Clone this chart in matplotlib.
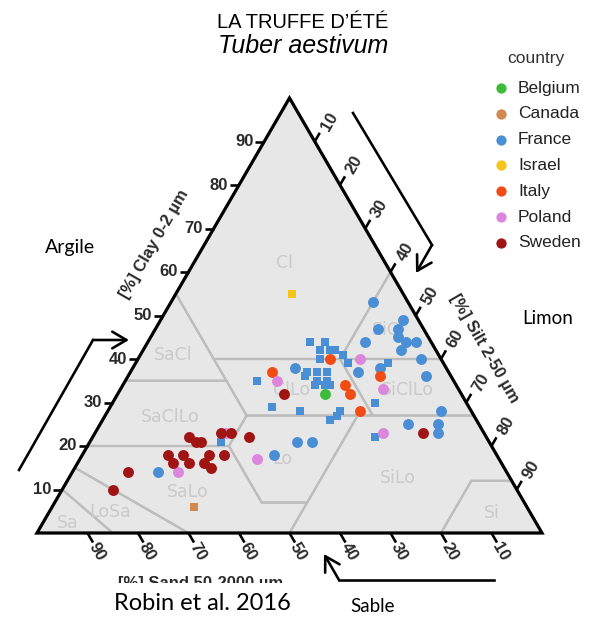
import numpy as np
import matplotlib
matplotlib.use("Agg")
import matplotlib.pyplot as plt
from matplotlib import font_manager
from matplotlib.patches import Polygon
from matplotlib.transforms import Bbox

W, H, DPI = 604, 621, 100
PT = 72.0 / DPI  # points per pixel

# ---------------- data: texture of soil samples (clay %, silt %, sand %) ----------------
belgium_clay = [32]
belgium_silt = [41]
belgium_sand = [27]

canada_clay = [6]
canada_silt = [28]
canada_sand = [66]

israel_clay = [55]
israel_silt = [23]
israel_sand = [22]

italy_clay = [37, 40, 34, 32, 28, 36]
italy_silt = [28, 38, 44, 46, 50, 50]
italy_sand = [35, 22, 22, 22, 22, 14]

poland_clay = [23, 14, 17, 35, 40, 33, 23]
poland_silt = [26, 21, 35, 30, 44, 52, 57]
poland_sand = [51, 65, 48, 35, 16, 15, 20]

sweden_clay = [22, 21, 21, 23, 23, 22, 18, 18, 16, 18, 18, 16, 16, 15, 14, 10, 32, 23]
sweden_silt = [19, 21, 22, 25, 27, 31, 17, 20, 22, 25, 28, 19, 25, 27, 11, 10, 33, 65]
sweden_sand = [59, 58, 57, 52, 50, 47, 65, 62, 62, 57, 54, 65, 59, 58, 75, 80, 35, 12]

france_round_clay = [14, 18, 21, 21, 38, 37, 53, 49, 47, 47, 45, 44, 44, 42, 44, 40, 36, 38, 25, 28, 25, 23]
france_round_silt = [17, 38, 41, 44, 32, 45, 40, 48, 44, 48, 49, 51, 53, 51, 43, 56, 59, 49, 61, 66, 67, 68]
france_round_sand = [69, 44, 38, 35, 30, 18, 7, 3, 9, 5, 6, 5, 3, 7, 13, 4, 5, 13, 14, 6, 8, 9]

france_square_clay = [21, 29, 35, 28, 44, 44, 30, 39, 42, 42, 42, 41, 39, 40, 37, 37, 37, 36,
                      35, 35, 34, 34, 34, 28, 27, 26, 22]
france_square_silt = [26, 32, 26, 38, 32, 35, 52, 50, 35, 37, 38, 40, 42, 36, 35, 37, 39, 35,
                      38, 40, 38, 40, 41, 46, 46, 45, 56]
france_square_sand = [53, 39, 39, 34, 24, 21, 18, 11, 23, 21, 20, 19, 19, 24, 28, 26, 24, 29,
                      27, 25, 28, 26, 25, 26, 27, 29, 22]

countries = ["Belgium", "Canada", "France", "Israel", "Italy", "Poland", "Sweden"]
country_colors = ["#3dbb3d", "#d08a4e", "#4a8fd6", "#f5c419", "#f24b14", "#dc86dc", "#a11414"]

tick_values = [10, 20, 30, 40, 50, 60, 70, 80, 90]

# USDA texture classes, vertices as (clay, silt, sand)
usda_classes = {
    "Cl": [(100, 0, 0), (55, 0, 45), (40, 15, 45), (40, 40, 20), (60, 40, 0)],
    "SiCl": [(60, 40, 0), (40, 40, 20), (40, 60, 0)],
    "SaCl": [(55, 0, 45), (35, 0, 65), (35, 20, 45)],
    "ClLo": [(40, 15, 45), (40, 40, 20), (27, 53, 20), (27, 28, 45)],
    "SiClLo": [(40, 40, 20), (40, 60, 0), (27, 73, 0), (27, 53, 20)],
    "SaClLo": [(35, 0, 65), (35, 20, 45), (27, 28, 45), (20, 28, 52), (20, 0, 80)],
    "Lo": [(27, 28, 45), (27, 50, 23), (7, 50, 43), (7, 41, 52), (20, 28, 52)],
    "SiLo": [(27, 50, 23), (27, 73, 0), (12, 88, 0), (12, 80, 8), (0, 80, 20), (0, 50, 50), (7, 50, 43)],
    "Si": [(12, 88, 0), (0, 100, 0), (0, 80, 20), (12, 80, 8)],
    "SaLo": [(20, 0, 80), (20, 28, 52), (7, 41, 52), (7, 50, 43), (0, 50, 50), (0, 30, 70), (15, 0, 85)],
    "LoSa": [(15, 0, 85), (0, 30, 70), (0, 15, 85), (10, 0, 90)],
    "Sa": [(10, 0, 90), (0, 15, 85), (0, 0, 100)],
}
# label anchor of each class (clay, silt)
class_label_pos = {
    "Cl": (62, 18), "SaCl": (41, 6.5), "SaClLo": (26.7, 13), "SaLo": (9.4, 25.2),
    "LoSa": (4.8, 12), "Sa": (2.3, 5), "Lo": (17, 40), "ClLo": (32.9, 33.9),
    "SiClLo": (32.9, 56.9), "SiCl": (46.7, 46.2), "SiLo": (12.6, 65.2), "Si": (4.6, 87.8),
}

# ---------------- layout ----------------
L = np.array([37.0, 533.0])    # 100 % sand
R = np.array([542.0, 533.0])   # 100 % silt
T = np.array([289.5, 98.0])    # 100 % clay


def tern(clay, silt, sand):
    c = np.asarray(clay, float)
    s = np.asarray(silt, float)
    a = np.asarray(sand, float)
    tot = c + s + a
    x = (a * L[0] + s * R[0] + c * T[0]) / tot
    y = (a * L[1] + s * R[1] + c * T[1]) / tot
    return x, y


def has_font(name):
    return any(f.name == name for f in font_manager.fontManager.ttflist)


fig = plt.figure(figsize=(W / DPI, H / DPI), dpi=DPI)
ax = fig.add_axes([0, 0, 1, 1])
ax.set_xlim(0, W)
ax.set_ylim(H, 0)
ax.axis("off")

tri = np.array([L, R, T])
ax.add_patch(Polygon(tri, closed=True, facecolor="#e7e7e7", edgecolor="none", zorder=1))

for name, verts in usda_classes.items():
    c, s, a = zip(*verts)
    x, y = tern(c, s, a)
    ax.add_patch(Polygon(np.column_stack([x, y]), closed=True, fill=False,
                         edgecolor="#bdbdbd", lw=2.2 * PT, zorder=2))

for name, (c, s) in class_label_pos.items():
    x, y = tern(c, s, 100 - c - s)
    ax.text(x, y, name, ha="center", va="center", color="#cacaca",
            fontsize=12.5, family="DejaVu Sans", zorder=3)

ax.add_patch(Polygon(tri, closed=True, fill=False, edgecolor="black",
                     lw=3.2 * PT, joinstyle="miter", zorder=10))

# ---------------- ticks ----------------
tick_font = dict(family="Liberation Sans", fontweight="bold", fontsize=12, color="#2a2a2a")
tlw = 2.6 * PT
d_sand = np.array([0.5, 0.866])
d_silt = np.array([0.5, -0.866])
for v in tick_values:
    # clay (left edge)
    bx, by = tern(v, 0, 100 - v)
    ax.plot([bx, bx - 9], [by, by], color="black", lw=tlw, zorder=10, solid_capstyle="butt")
    ax.text(bx - 11, by, str(v), ha="right", va="center", zorder=10, **tick_font)
    # silt (right edge)
    bx, by = tern(100 - v, v, 0)
    e = np.array([bx, by]) + d_silt * 10
    ax.plot([bx, e[0]], [by, e[1]], color="black", lw=tlw, zorder=10, solid_capstyle="butt")
    p = np.array([bx, by]) + d_silt * 23 + np.array([3, 0])
    ax.text(p[0], p[1], str(v), ha="center", va="center", rotation=60, zorder=10, **tick_font)
    # sand (bottom edge)
    bx, by = tern(0, 100 - v, v)
    e = np.array([bx, by]) + d_sand * 11
    ax.plot([bx, e[0]], [by, e[1]], color="black", lw=tlw, zorder=10, solid_capstyle="butt")
    p = np.array([bx, by]) + d_sand * 22 + np.array([-2, 0])
    ax.text(p[0], p[1], str(v), ha="center", va="center", rotation=-60, zorder=10, **tick_font)

# axis titles
title_font = dict(family="Liberation Sans", fontweight="bold", fontsize=12, color="#2a2a2a")
ax.text(154, 244, "[%] Clay 0-2 µm", ha="center", va="center", rotation=60, **title_font)
ax.text(484, 348, "[%] Silt 2-50 µm", ha="center", va="center", rotation=-60, **title_font)
sand_title = ax.text(201, 576, "[%] Sand 50-2000 µm", ha="center", va="top", zorder=4, **title_font)
# the lower half of the sand title is hidden in the reference
sand_title.set_clip_box(Bbox.from_extents(0, H - 583, W, H))
sand_title.set_clip_on(True)

# direction arrows
alw = 2.6 * PT
ahead = "->,head_length=0.85,head_width=0.5"


def bent_arrow(p0, p1, p2):
    ax.plot([p0[0], p1[0]], [p0[1], p1[1]], color="black", lw=alw, zorder=11,
            solid_capstyle="projecting")
    ax.annotate("", xy=p2, xytext=p1, zorder=11,
                arrowprops=dict(arrowstyle=ahead, lw=alw, color="black",
                                shrinkA=0, shrinkB=0, mutation_scale=12))


bent_arrow((19, 470), (93, 340), (129, 340))
bent_arrow((353, 113), (432, 245), (416, 273))
bent_arrow((494, 580), (339, 580), (324, 554))

# ---------------- points ----------------
sq = 37
ci = 62


def pts(clay, silt, sand, color, marker, s):
    x, y = tern(clay, silt, sand)
    ax.scatter(x, y, s=s, c=color, marker=marker, linewidths=0, zorder=6)


col = dict(zip(countries, country_colors))
pts(france_round_clay, france_round_silt, france_round_sand, col["France"], "o", ci)
pts(france_square_clay, france_square_silt, france_square_sand, col["France"], "s", sq)
pts(belgium_clay, belgium_silt, belgium_sand, col["Belgium"], "o", ci)
pts(canada_clay, canada_silt, canada_sand, col["Canada"], "s", sq)
pts(israel_clay, israel_silt, israel_sand, col["Israel"], "s", sq)
pts(italy_clay, italy_silt, italy_sand, col["Italy"], "o", ci)
pts(poland_clay, poland_silt, poland_sand, col["Poland"], "o", ci)
pts(sweden_clay, sweden_silt, sweden_sand, col["Sweden"], "o", ci)

# ---------------- legend ----------------
ax.text(536, 58, "country", ha="center", va="center", fontsize=12.5,
        family="Liberation Sans", color="#333333")
for i, (name, c) in enumerate(zip(countries, country_colors)):
    y = 88 + 25.8 * i
    ax.scatter([501], [y], s=55, c=c, marker="o", linewidths=0, zorder=6)
    ax.text(518, y, name, ha="left", va="center", fontsize=12.5,
            family="Liberation Sans", color="#222222")

# ---------------- titles and annotations ----------------
narrow = has_font("Liberation Sans Narrow")
ax.text(388, 22, "LA TRUFFE D\u2019\u00c9T\u00c9", ha="right", va="center",
        family="Liberation Sans Narrow" if narrow else "Liberation Sans",
        fontsize=17 if narrow else 14.5, color="black")
ax.text(388, 46, "Tuber aestivum", ha="right", va="center", family="Liberation Sans",
        style="italic", fontsize=18, color="black")

ann_font = dict(family="Lato", color="black")
ax.text(70, 248, "Argile", ha="center", va="center", fontsize=14, **ann_font)
ax.text(548, 318, "Limon", ha="center", va="center", fontsize=13.5, **ann_font)
ax.text(202, 604, "Robin et al. 2016", ha="center", va="center", fontsize=17, zorder=12, **ann_font)
ax.text(373, 606, "Sable", ha="center", va="center", fontsize=13.5, zorder=12, **ann_font)

fig.savefig("out.png", dpi=DPI, facecolor="white")
